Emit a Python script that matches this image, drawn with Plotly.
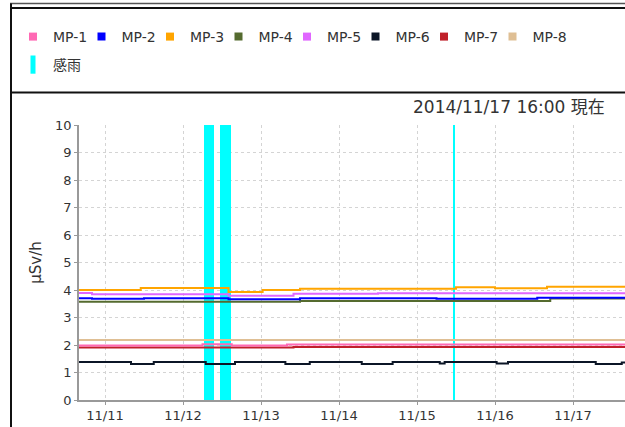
import plotly.graph_objects as go
import pandas as pd

FONT = "DejaVu Sans, Noto Sans CJK JP, sans-serif"

series_names = ["MP-1", "MP-2", "MP-3", "MP-4", "MP-5", "MP-6", "MP-7", "MP-8"]
series_colors = ["#ff69b4", "#0000ff", "#ffa500", "#556b2f", "#e066ff", "#0b1526", "#c0202a", "#dfbf94"]

# step series: time of change -> value (µSv/h)
mp1_t = ["2014-11-10 16:00", "2014-11-12 06:00", "2014-11-12 15:00", "2014-11-13 08:00", "2014-11-17 16:00"]
mp1_v = [1.98, 2.03, 1.98, 2.02, 2.02]

mp2_t = ["2014-11-10 16:00", "2014-11-10 20:00", "2014-11-11 12:00", "2014-11-12 14:00",
         "2014-11-13 12:00", "2014-11-15 06:00", "2014-11-16 13:00", "2014-11-17 16:00"]
mp2_v = [3.70, 3.68, 3.70, 3.66, 3.70, 3.68, 3.72, 3.72]

mp3_t = ["2014-11-10 16:00", "2014-11-11 11:00", "2014-11-12 14:00", "2014-11-13 00:30",
         "2014-11-13 12:00", "2014-11-15 12:00", "2014-11-16 00:00", "2014-11-16 16:00", "2014-11-17 16:00"]
mp3_v = [4.00, 4.07, 3.93, 4.00, 4.05, 4.10, 4.06, 4.12, 4.12]

mp4_t = ["2014-11-10 16:00", "2014-11-13 12:00", "2014-11-16 17:00", "2014-11-17 16:00"]
mp4_v = [3.57, 3.60, 3.69, 3.69]

mp5_t = ["2014-11-10 16:00", "2014-11-10 20:00", "2014-11-12 14:00", "2014-11-13 10:00",
         "2014-11-14 12:00", "2014-11-17 16:00"]
mp5_v = [3.89, 3.85, 3.79, 3.86, 3.88, 3.88]

mp6_t = ["2014-11-10 16:00", "2014-11-11 08:00", "2014-11-11 15:00", "2014-11-12 07:00",
         "2014-11-12 16:00", "2014-11-13 07:30", "2014-11-13 15:00", "2014-11-14 07:00",
         "2014-11-14 16:30", "2014-11-15 07:00", "2014-11-15 08:30", "2014-11-16 00:30",
         "2014-11-16 04:00", "2014-11-17 07:00", "2014-11-17 15:00", "2014-11-17 16:00"]
mp6_v = [1.38, 1.31, 1.38, 1.31, 1.38, 1.31, 1.38, 1.31,
         1.38, 1.33, 1.38, 1.33, 1.38, 1.31, 1.36, 1.36]

mp7_t = ["2014-11-10 16:00", "2014-11-13 10:00", "2014-11-17 16:00"]
mp7_v = [1.91, 1.93, 1.93]

mp8_t = ["2014-11-10 16:00", "2014-11-17 16:00"]
mp8_v = [2.18, 2.18]

rain_name = "感雨"
rain_color = "#00ffff"
rain_start = ["2014-11-12 06:20", "2014-11-12 11:30", "2014-11-15 11:05"]
rain_end = ["2014-11-12 09:30", "2014-11-12 14:40", "2014-11-15 11:30"]
rain_level = [10, 10, 10]

x_ticks = ["2014-11-11", "2014-11-12", "2014-11-13", "2014-11-14",
           "2014-11-15", "2014-11-16", "2014-11-17"]
x_range = ["2014-11-10 16:00", "2014-11-17 16:00"]
title_text = "2014/11/17 16:00 現在"
y_title = "μSv/h"

series_t = [mp1_t, mp2_t, mp3_t, mp4_t, mp5_t, mp6_t, mp7_t, mp8_t]
series_v = [mp1_v, mp2_v, mp3_v, mp4_v, mp5_v, mp6_v, mp7_v, mp8_v]

# ---- layout geometry (pixels) ----
W, H = 625, 427
ML, MR, MT, MB = 79, 0, 125, 27
PW, PH = W - ML - MR, H - MT - MB
LEG_X0, LEG_PITCH, LEG_ROW1, LEG_ROW2 = 13, 68.5, 37, 65


def px2x(px):
    return (px - ML) / PW


def py2y(py):
    return (H - MB - py) / PH


fig = go.Figure()

# rain bars
rs = pd.to_datetime(rain_start)
re_ = pd.to_datetime(rain_end)
mids = rs + (re_ - rs) / 2
widths = [(e - s).total_seconds() * 1000 for s, e in zip(rs, re_)]
fig.add_trace(go.Bar(x=mids, y=rain_level, width=widths, marker=dict(color=rain_color, line=dict(width=0)),
                     showlegend=False, hoverinfo="skip"))

# data lines (drawn MP-8 first so MP-1 on top)
for name, color, t, v in reversed(list(zip(series_names, series_colors, series_t, series_v))):
    fig.add_trace(go.Scatter(x=pd.to_datetime(t), y=v, mode="lines", line=dict(color=color, width=2, shape="hv"),
                             name=name, showlegend=False))

leg_font = dict(family=FONT, size=14, color="#333333")
legends = {}

# legend entries, one small legend per entry so they sit on a fixed pitch
for i, (name, color) in enumerate(zip(series_names, series_colors)):
    key = "legend" if i == 0 else f"legend{i + 1}"
    fig.add_trace(go.Scatter(x=[None], y=[None], mode="markers", name=name, legend=key,
                             marker=dict(symbol="square", size=8, color=color)))
    legends[key] = dict(orientation="h", x=px2x(LEG_X0 + i * LEG_PITCH), xanchor="left",
                        y=py2y(LEG_ROW1), yanchor="middle", font=leg_font,
                        bgcolor="rgba(0,0,0,0)", itemwidth=30, itemclick=False, itemdoubleclick=False)

rkey = f"legend{len(series_names) + 1}"
fig.add_trace(go.Scatter(x=[None], y=[None], mode="markers", name=rain_name, legend=rkey,
                         marker=dict(symbol="line-ns", size=13, line=dict(width=5, color=rain_color))))
legends[rkey] = dict(orientation="h", x=px2x(LEG_X0), xanchor="left", y=py2y(LEG_ROW2), yanchor="middle",
                     font=leg_font, bgcolor="rgba(0,0,0,0)", itemwidth=30,
                     itemclick=False, itemdoubleclick=False)

axis_common = dict(showgrid=True, gridcolor="#d4d4d4", gridwidth=1, griddash="3px,3px",
                   showline=True, linecolor="#999999", linewidth=1.5, ticks="outside", ticklen=3,
                   tickcolor="#999999", zeroline=False,
                   tickfont=dict(family=FONT, size=13, color="#333333"))

fig.update_layout(
    width=W, height=H,
    margin=dict(l=ML, r=MR, t=MT, b=MB, autoexpand=False),
    paper_bgcolor="white", plot_bgcolor="white",
    bargap=0,
    xaxis=dict(type="date", range=x_range, tickvals=pd.to_datetime(x_ticks), tickformat="%m/%d", **axis_common),
    yaxis=dict(range=[0, 10], dtick=1, title=dict(text=y_title, font=dict(family=FONT, size=15, color="#333333"),
                                                   standoff=10), **axis_common),
    showlegend=True,
    annotations=[dict(text=title_text, xref="paper", yref="paper", x=px2x(411), y=py2y(107),
                      xanchor="left", yanchor="middle", showarrow=False,
                      font=dict(family=FONT, size=17, color="#333333"))],
    shapes=[
        dict(type="line", xref="paper", yref="paper", x0=px2x(10), x1=px2x(640), y0=py2y(3.5), y1=py2y(3.5),
             line=dict(color="#555555", width=1.5)),
        dict(type="rect", xref="paper", yref="paper", x0=px2x(11), x1=px2x(640), y0=py2y(8), y1=py2y(92.5),
             line=dict(color="#111111", width=2)),
        dict(type="line", xref="paper", yref="paper", x0=px2x(11), x1=px2x(11), y0=py2y(3.5), y1=py2y(430),
             line=dict(color="#111111", width=2)),
    ],
)
fig.update_layout(**legends)

fig.write_html("out.html", config={"displayModeBar": False},
               post_script="document.body.style.margin='0';document.body.style.overflow='hidden';")
